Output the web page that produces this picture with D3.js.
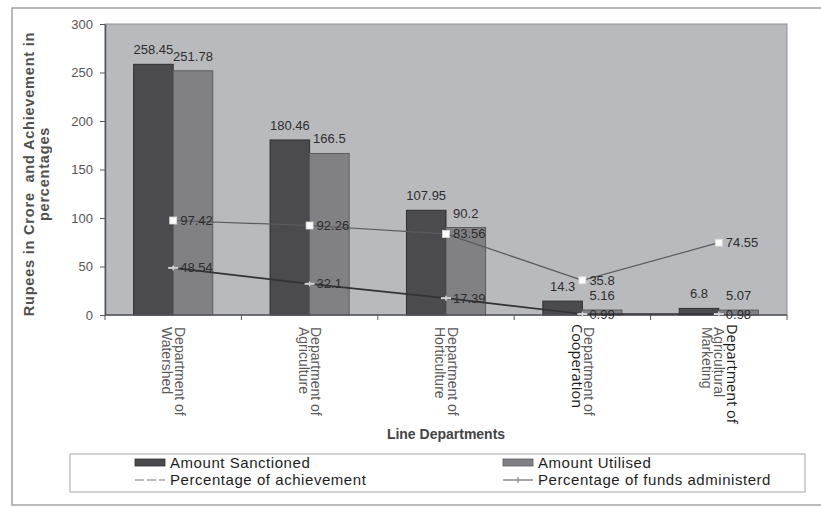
<!DOCTYPE html>
<html>
<head>
<meta charset="utf-8">
<script src="https://cdn.jsdelivr.net/npm/d3@7"></script>
<style>
  html, body { margin: 0; padding: 0; background: #fff; }
  svg { display: block; font-family: "Liberation Sans", Arial, sans-serif; }
</style>
</head>
<body>
<svg id="chart" width="821" height="508"></svg>
<script>
// Line departments (tick labels are broken into lines)
const departments = [
  ["Department of", "Watershed"],
  ["Department of", "Agriculture"],
  ["Department of", "Horticulture"],
  ["Department of", "Cooperation"],
  ["Department of", "Agricultural", "Marketing"]
];
// Rupees in crore
const amountSanctioned = [258.45, 180.46, 107.95, 14.3, 6.8];
const amountUtilised   = [251.78, 166.5, 90.2, 5.16, 5.07];
// Percentages
const pctAchievement       = [97.42, 92.26, 83.56, 35.8, 74.55];
const pctFundsAdministered = [48.54, 32.1, 17.39, 0.99, 0.98];
const yTicks = [0, 50, 100, 150, 200, 250, 300];

const seriesNames = ["Amount Sanctioned", "Amount Utilised",
                     "Percentage of achievement", "Percentage of funds administerd"];

const svg = d3.select("#chart");

// outer chart frame
svg.append("rect")
  .attr("x", 12).attr("y", 8).attr("width", 840).attr("height", 497)
  .attr("fill", "#fff").attr("stroke", "#a3a3a3").attr("stroke-width", 1.5);

const P = { left: 105, right: 787, top: 24, bottom: 315 };
const idx = d3.range(departments.length);

const x = d3.scaleBand().domain(idx).range([P.left, P.right]);
const bw = x.bandwidth();
const x1 = d3.scaleBand().domain([0, 1]).range([bw * 0.21, bw * 0.79]);
const y = d3.scaleLinear().domain([0, 300]).range([P.bottom, P.top]);

// plot area
svg.append("rect")
  .attr("x", P.left).attr("y", P.top)
  .attr("width", P.right - P.left).attr("height", P.bottom - P.top)
  .attr("fill", "#b9babe").attr("stroke", "#8e8f93").attr("stroke-width", 1);

// bars
const barFill = ["#4b4b4f", "#818185"];
const barStroke = ["#2f2f32", "#5c5c60"];
[amountSanctioned, amountUtilised].forEach((vals, s) => {
  svg.append("g").selectAll("rect").data(vals).join("rect")
    .attr("x", (d, i) => x(i) + x1(s))
    .attr("y", d => y(d))
    .attr("width", x1.bandwidth())
    .attr("height", d => y(0) - y(d))
    .attr("fill", barFill[s])
    .attr("stroke", barStroke[s]).attr("stroke-width", 1);
});

// y axis
const yAxis = svg.append("g")
  .attr("transform", `translate(${P.left},0)`)
  .call(d3.axisLeft(y).tickValues(yTicks).tickSize(5).tickPadding(7).tickSizeOuter(0));
yAxis.select(".domain").attr("stroke", "#55565a").attr("stroke-width", 1.5);
yAxis.selectAll(".tick line").attr("stroke", "#55565a");
yAxis.selectAll(".tick text")
  .attr("fill", "#555").style("font-size", "13px").style("font-family", "Liberation Sans, Arial, sans-serif");

// x axis: baseline and ticks between categories
svg.append("line")
  .attr("x1", P.left).attr("x2", P.right).attr("y1", y(0)).attr("y2", y(0))
  .attr("stroke", "#55565a").attr("stroke-width", 1.5);
svg.append("g").selectAll("line").data(d3.range(departments.length + 1)).join("line")
  .attr("x1", i => P.left + i * bw).attr("x2", i => P.left + i * bw)
  .attr("y1", y(0)).attr("y2", y(0) + 5)
  .attr("stroke", "#55565a");

// category labels, rotated to read downward; two lines are set in a plainer face
const crispLine = { 3: 1, 4: 0 };
const lineGap = 12.5;
idx.forEach(i => {
  const lines = departments[i];
  const cx = x(i) + bw / 2;
  const g = svg.append("g")
    .attr("transform", `translate(${cx},${y(0) + 9}) rotate(90)`);
  lines.forEach((t, k) => {
    const dy = (k - (lines.length - 1) / 2) * lineGap;
    const crisp = crispLine[i] === k;
    g.append("text")
      .attr("x", crisp ? 0 : 3)
      .attr("y", dy + 4.5)
      .attr("fill", crisp ? "#1a1a1a" : "#5a5a5a")
      .style("font-size", crisp ? "14.5px" : "14px")
      .style("font-family", crisp ? "'Open Sans', 'Noto Sans', sans-serif" : "Liberation Sans, Arial, sans-serif")
      .text(t);
  });
});

// axis titles
svg.append("text")
  .attr("x", (P.left + P.right) / 2).attr("y", 439)
  .attr("text-anchor", "middle").attr("fill", "#444")
  .style("font-size", "14px").style("font-weight", "bold")
  .text("Line Departments");

const yTitle = svg.append("text")
  .attr("transform", `translate(34,174) rotate(-90)`)
  .attr("text-anchor", "middle").attr("fill", "#505050")
  .style("font-size", "14.5px").style("font-weight", "bold")
  .style("letter-spacing", "0.8px")
  .style("white-space", "pre");
yTitle.append("tspan").attr("x", 0).attr("dy", 0).text("Rupees in Crore  and Achievement in");
yTitle.append("tspan").attr("x", 0).attr("dy", 15).text("percentages");

// percentage lines
const cxOf = i => x(i) + bw / 2;
const line = d3.line().x((d, i) => cxOf(i)).y(d => y(d));

svg.append("path").datum(pctAchievement)
  .attr("d", line).attr("fill", "none")
  .attr("stroke", "#5b5b5f").attr("stroke-width", 1.2);
svg.append("path").datum(pctFundsAdministered)
  .attr("d", line).attr("fill", "none")
  .attr("stroke", "#333336").attr("stroke-width", 1.6);

// markers
svg.append("g").selectAll("rect").data(pctAchievement).join("rect")
  .attr("x", (d, i) => cxOf(i) - 3.5).attr("y", d => y(d) - 3.5)
  .attr("width", 7).attr("height", 7)
  .attr("fill", "#fbfbfb").attr("stroke", "#d8d8d8").attr("stroke-width", 0.8);
const fm = svg.append("g").selectAll("g").data(pctFundsAdministered).join("g")
  .attr("transform", (d, i) => `translate(${cxOf(i)},${y(d)})`);
fm.append("line").attr("x1", -5).attr("x2", 5).attr("stroke", "#d2d2d4").attr("stroke-width", 2);
fm.append("line").attr("y1", -2.5).attr("y2", 2.5).attr("stroke", "#d2d2d4").attr("stroke-width", 1.5);

// data labels
const lblStyle = sel => sel.attr("fill", "#2d2d2d").style("font-size", "13px");

[amountSanctioned, amountUtilised].forEach((vals, s) => {
  svg.append("g").selectAll("text").data(vals).join("text")
    .attr("x", (d, i) => x(i) + x1(s) + x1.bandwidth() / 2)
    .attr("y", d => y(d) - 10)
    .attr("text-anchor", "middle")
    .call(lblStyle)
    .text(d => d);
});
[pctAchievement, pctFundsAdministered].forEach(vals => {
  svg.append("g").selectAll("text").data(vals).join("text")
    .attr("x", (d, i) => cxOf(i) + 7)
    .attr("y", d => y(d) + 4.5)
    .call(lblStyle)
    .text(d => d);
});

// legend
const L = svg.append("g");
L.append("rect")
  .attr("x", 70).attr("y", 454).attr("width", 735).attr("height", 38)
  .attr("fill", "#fff").attr("stroke", "#b5b5b5").attr("stroke-width", 1.2);
const legendPos = [[135, 463], [503, 463], [135, 480], [503, 480]];
seriesNames.forEach((name, k) => {
  const [lx, ly] = legendPos[k];
  if (k < 2) {
    L.append("rect").attr("x", lx).attr("y", ly - 4).attr("width", 30).attr("height", 7)
      .attr("fill", barFill[k]).attr("stroke", barStroke[k]).attr("stroke-width", 0.8);
  } else if (k === 2) {
    L.append("line").attr("x1", lx).attr("x2", lx + 30).attr("y1", ly).attr("y2", ly)
      .attr("stroke", "#a5a5a8").attr("stroke-width", 1.5).attr("stroke-dasharray", "9 3");
  } else {
    L.append("line").attr("x1", lx).attr("x2", lx + 30).attr("y1", ly).attr("y2", ly)
      .attr("stroke", "#8a8a8e").attr("stroke-width", 1.5);
    L.append("line").attr("x1", lx + 15).attr("x2", lx + 15).attr("y1", ly - 3).attr("y2", ly + 3)
      .attr("stroke", "#8a8a8e").attr("stroke-width", 1.2);
  }
  L.append("text").attr("x", lx + 35).attr("y", ly + 5)
    .attr("fill", "#1e1e1e").style("font-size", "15px")
    .style("letter-spacing", "0.55px")
    .text(name);
});
</script>
</body>
</html>
